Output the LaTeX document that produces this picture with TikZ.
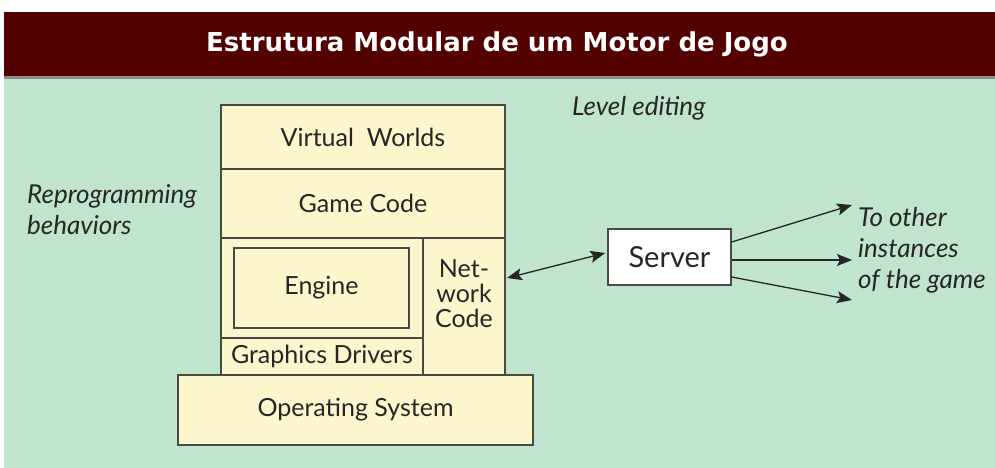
\documentclass[tikz,border=0pt]{standalone}
\usepackage{fontspec}
\setmainfont{Lato}
\newfontfamily\headfont{DejaVu Sans}
\usetikzlibrary{calc}
\usetikzlibrary{positioning}
\usetikzlibrary{arrows.meta}

\definecolor{headred}{HTML}{520000}
\definecolor{bggreen}{HTML}{C0E4CE}
\definecolor{boxfill}{HTML}{FBF6CC}
\definecolor{edge}{HTML}{4A4A44}

\tikzset{
	layer/.style = {draw=edge, line width=1.4pt, fill=boxfill, inner sep=0pt, text=black!85, font=\fontsize{25}{27}\selectfont},
	note/.style = {font=\fontsize{26}{31}\selectfont\itshape, text=black!85, align=left, inner sep=0pt},
	link/.style = {line width=1.3pt, draw=black!85, -{Stealth[length=15pt, width=12pt, inset=3pt]}}
}

\begin{document}
\begin{tikzpicture}[x = 1pt, y = -1pt]
				\useasboundingbox (0, 0) rectangle (995, 468);
				\fill[white] (0, 0) rectangle (995, 468);
				\fill[bggreen] (4, 78) rectangle (995, 468);
				\fill[headred] (4, 12) rectangle (995, 76);
				\fill[black!45] (4, 76) rectangle (995, 79);
				\node[text=white, font=\headfont\bfseries\fontsize{26}{30}\selectfont] (title) at (497, 44) {Estrutura Modular de um Motor de Jogo};

				% the stack of layers
				\node[layer, minimum width = 284pt, minimum height = 64pt] (worlds) at (363, 137) {Virtual\ \ Worlds};
				\node[layer, minimum width = 284pt, minimum height = 69pt] (game) at (363, 203.5) {Game Code};
				\node[layer, minimum width = 202pt, minimum height = 100pt] (engarea) at (322, 288) {};
				\node[layer, minimum width = 175pt, minimum height = 80pt] (engine) at (321.5, 288) {Engine};
				\node[layer, minimum width = 202pt, minimum height = 37pt] (drivers) at (322, 356.5) {Graphics Drivers};
				\node[layer, minimum width = 82pt, minimum height = 137pt] (net) at (464, 306.5) {};
				\node[font=\fontsize{25}{25}\selectfont, text=black!85, align=center, anchor=north, inner sep=0pt] (nettext) at (464, 259) {Net-\\work\\Code};
				\node[layer, minimum width = 355pt, minimum height = 70pt] (os) at (355.5, 410) {Operating System};

				% server and links
				\node[layer, fill=white, minimum width = 123pt, minimum height = 56pt, font=\fontsize{29}{32}\selectfont] (server) at (669.5, 257) {Server};
				\coordinate (netport) at (507, 278);
				\draw[link, {Stealth[length=15pt, width=12pt, inset=3pt]}-{Stealth[length=15pt, width=12pt, inset=3pt]}] (netport) -- ($(server.west)+(-2, -4)$);

				\coordinate (outa) at (852, 205);
				\coordinate (outb) at (852, 260);
				\coordinate (outc) at (852, 300);
				\draw[link] ($(server.east)+(0, -15)$) -- (outa);
				\draw[link] ($(server.east)+(0, 3)$) -- (outb);
				\draw[link] ($(server.east)+(0, 20)$) -- (outc);

				% the notes
				\node[note, anchor=west] (others) at (858, 250) {To other\\instances\\of the game};
				\node[note, anchor=west] (editing) at (572, 108) {Level editing};
				\node[note, anchor=west] (behave) at (27, 210) {Reprogramming\\behaviors};
			\end{tikzpicture}
\end{document}
